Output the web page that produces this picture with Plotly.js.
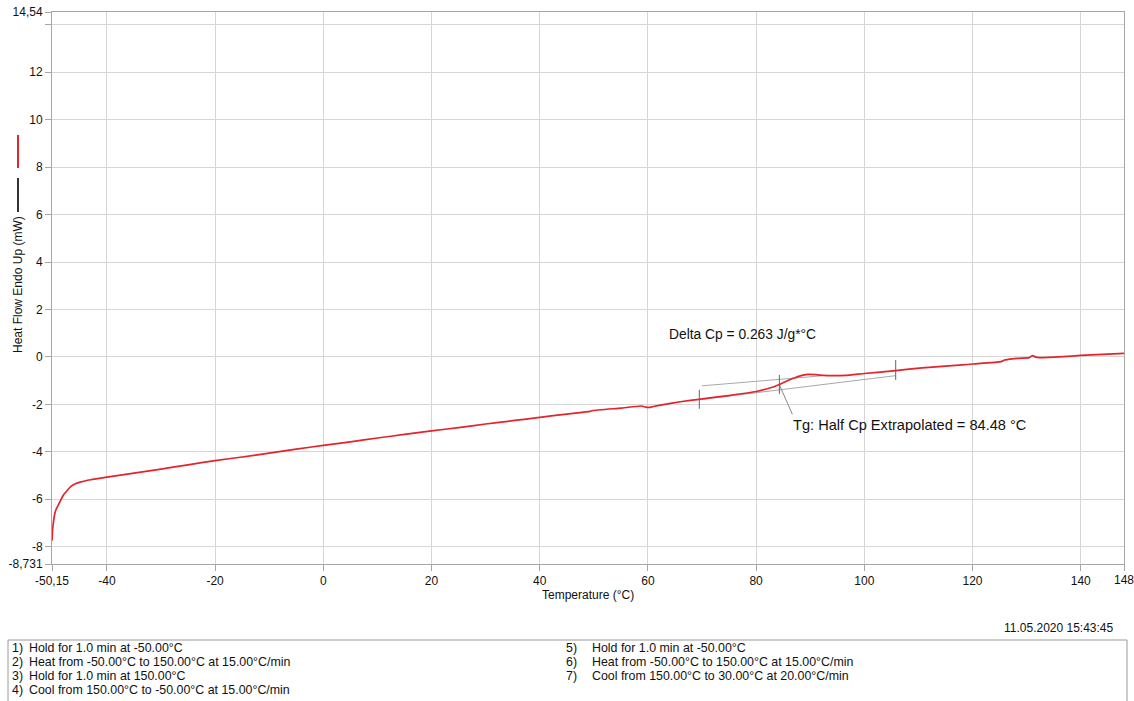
<!DOCTYPE html>
<html>
<head>
<meta charset="utf-8">
<script src="https://cdn.plot.ly/plotly-3.0.1.min.js"></script>
<style>html,body{margin:0;padding:0;background:#fff;}#chart{width:1134px;height:701px;}</style>
</head>
<body>
<div id="chart"></div>
<script>
// Measured curve (Temperature °C, Heat flow mW)
var temperature = [-50.15, -50.05, -49.9, -49.75, -49.6, -49.3, -48.95, -48.5, -48.0, -47.3, -46.7, -45.8, -44.8, -43, -40, -35, -30, -25, -20, -15, -10, -5, 0, 5, 10, 15, 20, 25, 30, 35, 40, 45, 49.3, 49.8, 55, 58.8, 59.6, 60.3, 61, 62.6, 66.3, 69.4, 74.9, 80, 83, 84.8, 86.1, 87.3, 88.3, 89.5, 91, 92.5, 94.1, 96.5, 100, 105.8, 110.7, 118.1, 120, 125.3, 125.9, 127.4, 130.5, 131.1, 131.7, 132.3, 136.7, 140, 144, 148];
var heatFlow = [-7.75, -7.3, -7.0, -6.75, -6.57, -6.38, -6.23, -6.02, -5.81, -5.62, -5.47, -5.35, -5.27, -5.18, -5.07, -4.9, -4.73, -4.55, -4.37, -4.22, -4.06, -3.89, -3.73, -3.58, -3.42, -3.27, -3.12, -2.98, -2.83, -2.69, -2.55, -2.41, -2.3, -2.26, -2.16, -2.07, -2.12, -2.13, -2.09, -2.02, -1.88, -1.79, -1.63, -1.46, -1.28, -1.11, -0.97, -0.87, -0.79, -0.74, -0.75, -0.78, -0.79, -0.78, -0.70, -0.58, -0.46, -0.34, -0.30, -0.20, -0.13, -0.08, -0.03, 0.05, -0.01, -0.03, 0.01, 0.06, 0.11, 0.15];

// Tg analysis construction lines
var postBaseX = [70, 92];
var postBaseY = [-1.22, -0.80];
var preBaseX = [70, 105.8];
var preBaseY = [-1.79, -0.79];
var leaderX = [84.3, 86.7];
var leaderY = [-1.18, -2.42];
var markerX = [69.5, 84.3, 105.8];
var markerYLow = [-2.19, -1.56, -0.97];
var markerYHigh = [-1.39, -0.76, -0.13];

// Axis ticks
var xTickVals = [-50.15, -40, -20, 0, 20, 40, 60, 80, 100, 120, 140, 148];
var xTickText = ['-50,15', '-40', '-20', '0', '20', '40', '60', '80', '100', '120', '140', '148'];
var yTickVals = [-8.731, -8, -6, -4, -2, 0, 2, 4, 6, 8, 10, 12, 14, 14.54];
var yTickText = ['-8,731', '-8', '-6', '-4', '-2', '0', '2', '4', '6', '8', '10', '12', '', '14,54'];

// Method steps
var stepsLeftNum = ['1)', '2)', '3)', '4)'];
var stepsLeft = ['Hold for 1.0 min at -50.00°C', 'Heat from -50.00°C to 150.00°C at 15.00°C/min', 'Hold for 1.0 min at 150.00°C', 'Cool from 150.00°C to -50.00°C at 15.00°C/min'];
var stepsRightNum = ['5)', '6)', '7)'];
var stepsRight = ['Hold for 1.0 min at -50.00°C', 'Heat from -50.00°C to 150.00°C at 15.00°C/min', 'Cool from 150.00°C to 30.00°C at 20.00°C/min'];

var FONT = 'Liberation Sans, Arial, sans-serif';
var W = 1134, H = 701, ML = 52, MR = 10, MT = 12, MB = 137;
var PW = W - ML - MR, PH = H - MT - MB;
function px(x) { return (x - ML) / PW; }
function py(y) { return (H - MB - y) / PH; }

var gray = '#a8a8a8';
var traces = [
  {x: postBaseX, y: postBaseY, type: 'scatter', mode: 'lines', line: {color: gray, width: 1}, hoverinfo: 'skip'},
  {x: preBaseX, y: preBaseY, type: 'scatter', mode: 'lines', line: {color: gray, width: 1}, hoverinfo: 'skip'},
  {x: leaderX, y: leaderY, type: 'scatter', mode: 'lines', line: {color: '#888', width: 1}, hoverinfo: 'skip'}
];
for (var i = 0; i < markerX.length; i++) {
  traces.push({x: [markerX[i], markerX[i]], y: [markerYLow[i], markerYHigh[i]], type: 'scatter', mode: 'lines', line: {color: '#666', width: 1}, hoverinfo: 'skip'});
}
traces.push({x: temperature, y: heatFlow, type: 'scatter', mode: 'lines', line: {color: '#e3242b', width: 1.7, shape: 'spline', smoothing: 0.4}, hoverinfo: 'skip'});

var annotations = [
  {xref: 'x', yref: 'y', x: 77.5, y: 0.93, text: 'Delta Cp = 0.263 J/g*°C', showarrow: false, font: {family: FONT, size: 13.8, color: '#111'}, xanchor: 'center', yanchor: 'middle'},
  {xref: 'x', yref: 'y', x: 86.4, y: -2.86, text: 'Tg: Half Cp Extrapolated = 84.48 °C', showarrow: false, font: {family: FONT, size: 14.6, color: '#111'}, xanchor: 'left', yanchor: 'middle'},
  {xref: 'x', yref: 'paper', x: 148, y: py(580), text: '148', showarrow: false, font: {family: FONT, size: 12, color: '#111'}, xanchor: 'center', yanchor: 'middle'},
  {xref: 'paper', yref: 'paper', x: px(18), y: py(285), text: 'Heat Flow Endo Up (mW)', textangle: -90, showarrow: false, font: {family: FONT, size: 12, color: '#111'}, xanchor: 'center', yanchor: 'middle'},
  {xref: 'paper', yref: 'paper', x: px(588), y: py(595), text: 'Temperature (°C)', showarrow: false, font: {family: FONT, size: 12, color: '#111'}, xanchor: 'center', yanchor: 'middle'},
  {xref: 'paper', yref: 'paper', x: px(1116), y: py(628), text: '11.05.2020 15:43:45', showarrow: false, font: {family: FONT, size: 12, color: '#111'}, xanchor: 'right', yanchor: 'middle'}
];
var rowY = [648, 662, 676, 690];
for (var j = 0; j < stepsLeft.length; j++) {
  annotations.push({xref: 'paper', yref: 'paper', x: px(10), y: py(rowY[j]), text: stepsLeftNum[j], showarrow: false, font: {family: FONT, size: 12.4, color: '#111'}, xanchor: 'left', yanchor: 'middle'});
  annotations.push({xref: 'paper', yref: 'paper', x: px(27), y: py(rowY[j]), text: stepsLeft[j], showarrow: false, font: {family: FONT, size: 12.4, color: '#111'}, xanchor: 'left', yanchor: 'middle'});
}
for (var k = 0; k < stepsRight.length; k++) {
  annotations.push({xref: 'paper', yref: 'paper', x: px(564), y: py(rowY[k]), text: stepsRightNum[k], showarrow: false, font: {family: FONT, size: 12.4, color: '#111'}, xanchor: 'left', yanchor: 'middle'});
  annotations.push({xref: 'paper', yref: 'paper', x: px(590), y: py(rowY[k]), text: stepsRight[k], showarrow: false, font: {family: FONT, size: 12.4, color: '#111'}, xanchor: 'left', yanchor: 'middle'});
}

var shapes = [
  {type: 'line', xref: 'paper', yref: 'paper', x0: px(18), x1: px(18), y0: py(135), y1: py(168), line: {color: '#e3242b', width: 2}},
  {type: 'line', xref: 'paper', yref: 'paper', x0: px(18), x1: px(18), y0: py(178), y1: py(212), line: {color: '#333', width: 2}},
  {type: 'rect', xref: 'paper', yref: 'paper', x0: px(8), x1: px(1127), y0: py(640), y1: py(712), line: {color: '#9a9a9a', width: 1}, fillcolor: 'rgba(0,0,0,0)'}
];

var axisCommon = {
  showgrid: true, gridcolor: '#d6d6d6', gridwidth: 1,
  showline: true, linecolor: '#a6a6a6', linewidth: 1, mirror: true,
  ticks: 'outside', ticklen: 6, tickcolor: '#a6a6a6', tickwidth: 1,
  zeroline: false, tickmode: 'array',
  tickfont: {family: FONT, size: 12, color: '#111'}
};
xTickText[xTickText.length - 1] = '';

var layout = {
  width: W, height: H,
  margin: {l: ML, r: MR, t: MT, b: MB, pad: 0},
  paper_bgcolor: '#fff', plot_bgcolor: '#fff',
  showlegend: false,
  xaxis: Object.assign({}, axisCommon, {range: [-50.15, 148], tickvals: xTickVals, ticktext: xTickText}),
  yaxis: Object.assign({}, axisCommon, {range: [-8.731, 14.54], tickvals: yTickVals, ticktext: yTickText}),
  annotations: annotations,
  shapes: shapes,
  hovermode: false
};

Plotly.newPlot('chart', traces, layout, {staticPlot: true, displayModeBar: false});
</script>
</body>
</html>
